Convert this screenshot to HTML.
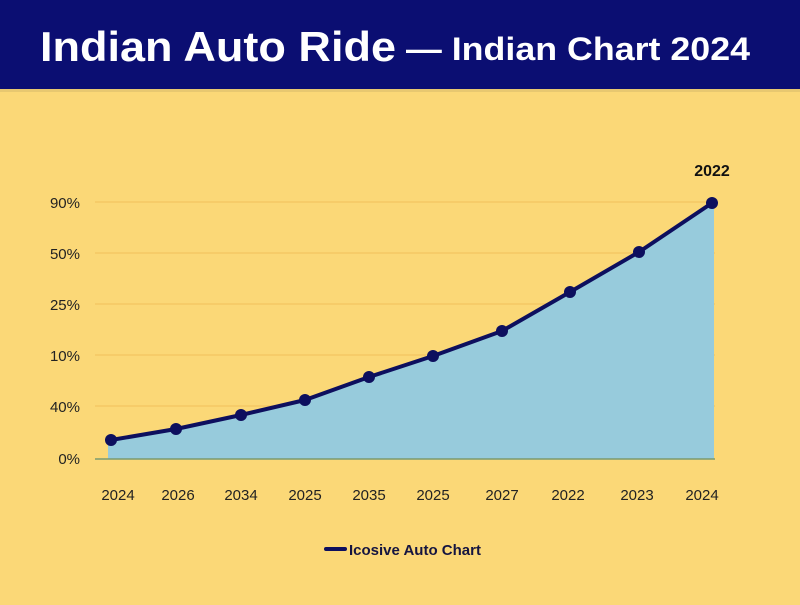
<!DOCTYPE html>
<html><head><meta charset="utf-8"><style>
body{margin:0;width:800px;height:600px;overflow:hidden;background:#fbd877;font-family:"Liberation Sans",sans-serif}
</style></head><body>
<svg width="800" height="600" xmlns="http://www.w3.org/2000/svg">
<rect width="800" height="600" fill="#fbd877"/>
<rect width="800" height="90" fill="#0b0e72"/>
<rect y="89" width="800" height="3" fill="#e8c870"/>
<text x="40" y="61" fill="#fff" font-size="42" font-weight="bold" textLength="356" lengthAdjust="spacingAndGlyphs">Indian Auto Ride</text>
<text x="406" y="60" fill="#fff" font-size="32" font-weight="bold" textLength="344" lengthAdjust="spacingAndGlyphs">— Indian Chart 2024</text>
<g stroke="#f5c765" stroke-width="1.5">
<line x1="95" x2="715" y1="202" y2="202"/><line x1="95" x2="715" y1="253" y2="253"/>
<line x1="95" x2="715" y1="304" y2="304"/><line x1="95" x2="715" y1="355" y2="355"/>
<line x1="95" x2="715" y1="406" y2="406"/>
</g>
<g font-size="15" fill="#222" text-anchor="end">
<text x="80" y="208">90%</text><text x="80" y="259">50%</text><text x="80" y="310">25%</text>
<text x="80" y="361">10%</text><text x="80" y="412">40%</text><text x="80" y="464">0%</text>
</g>
<polygon points="108,459 108,440 176,429 241,415 305,400 369,377 433,356 502,331 570,292 639,252 712,203 714,203 714,459" fill="#97cbdc"/>
<line x1="95" x2="715" y1="459" y2="459" stroke="#7a9a70" stroke-width="1.5"/>
<polyline points="111,440 176,429 241,415 305,400 369,377 433,356 502,331 570,292 639,252 712,203" fill="none" stroke="#0d0f5e" stroke-width="4" stroke-linejoin="round"/>
<g fill="#0d0f5e">
<circle cx="111" cy="440" r="6"/><circle cx="176" cy="429" r="6"/><circle cx="241" cy="415" r="6"/>
<circle cx="305" cy="400" r="6"/><circle cx="369" cy="377" r="6"/><circle cx="433" cy="356" r="6"/>
<circle cx="502" cy="331" r="6"/><circle cx="570" cy="292" r="6"/><circle cx="639" cy="252" r="6"/>
<circle cx="712" cy="203" r="6"/>
</g>
<text x="712" y="176" font-size="16" font-weight="bold" fill="#111" text-anchor="middle">2022</text>
<g font-size="15" fill="#222" text-anchor="middle">
<text x="118" y="500">2024</text><text x="178" y="500">2026</text><text x="241" y="500">2034</text>
<text x="305" y="500">2025</text><text x="369" y="500">2035</text><text x="433" y="500">2025</text>
<text x="502" y="500">2027</text><text x="568" y="500">2022</text><text x="637" y="500">2023</text>
<text x="702" y="500">2024</text>
</g>
<line x1="326" x2="345" y1="549" y2="549" stroke="#0d0f5e" stroke-width="4" stroke-linecap="round"/>
<text x="349" y="555" font-size="15" font-weight="bold" fill="#151540">Icosive Auto Chart</text>
</svg>
</body></html>
